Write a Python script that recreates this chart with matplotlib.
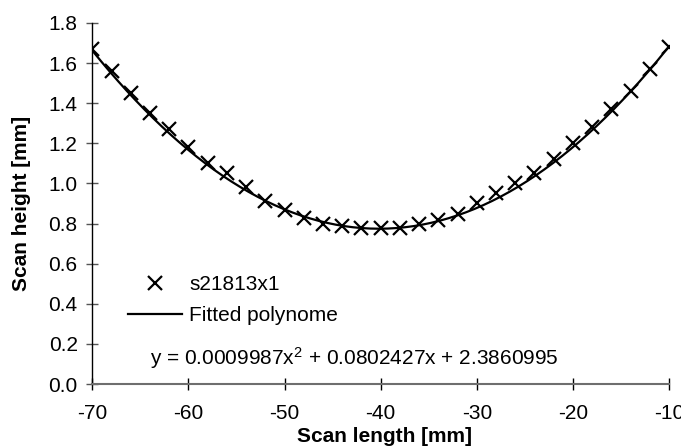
import matplotlib
matplotlib.use("Agg")
import matplotlib.pyplot as plt
import numpy as np

# scan data
scan_x = [-70, -68, -66, -64, -62, -60, -58, -56, -54, -52, -50, -48, -46, -44, -42, -40,
          -38, -36, -34, -32, -30, -28, -26, -24, -22, -20, -18, -16, -14, -12, -10]
scan_y = [1.67, 1.56, 1.45, 1.35, 1.27, 1.18, 1.10, 1.05, 0.98, 0.91, 0.87, 0.83, 0.80, 0.79, 0.78, 0.78,
          0.78, 0.80, 0.82, 0.85, 0.90, 0.95, 1.00, 1.05, 1.12, 1.20, 1.28, 1.37, 1.46, 1.57, 1.68]

# coefficients of the fitted polynome, as printed on the chart
fit_coef = [0.0009987, 0.0802427, 2.3860995]

x_ticks = [-70, -60, -50, -40, -30, -20, -10]
y_ticks = [0.0, 0.2, 0.4, 0.6, 0.8, 1.0, 1.2, 1.4, 1.6, 1.8]

plt.rcParams['font.family'] = ['Liberation Sans', 'DejaVu Sans']
plt.rcParams['mathtext.fontset'] = 'custom'
plt.rcParams['mathtext.rm'] = 'Liberation Sans'
plt.rcParams['mathtext.it'] = 'Liberation Sans'
plt.rcParams['axes.unicode_minus'] = False

fs = 15

fig = plt.figure(figsize=(6.81, 4.48), dpi=100)
ax = fig.add_axes([92.3/681, 1-384/448, (669-92.3)/681, (384-23)/448])

xs = np.linspace(-70, -10, 200)
ax.plot(scan_x, scan_y, 'x', color='black', markersize=9.5, markeredgewidth=1.6, label='s21813x1', zorder=3)
ax.plot(xs, np.polyval(fit_coef, xs), '-', color='black', linewidth=1.6, label='Fitted polynome')

ax.set_xlim(-70, -10)
ax.set_ylim(0, 1.8)
ax.set_xticks(x_ticks)
ax.set_yticks(y_ticks)
ax.set_yticklabels(['%.1f' % v for v in y_ticks])

for s in ['top', 'right']:
    ax.spines[s].set_visible(False)
ax.spines['left'].set_color('black')
ax.spines['bottom'].set_color('#6e6e6e')
ax.spines['left'].set_linewidth(1.0)
ax.spines['bottom'].set_linewidth(1.5)

ax.tick_params(axis='y', direction='inout', length=9, width=1, color='#555555', labelsize=fs, pad=6)
ax.tick_params(axis='x', direction='inout', length=9, width=1, color='black', labelsize=fs, pad=10)

ax.set_xlabel('Scan length [mm]', fontsize=fs, fontweight='bold')
ax.xaxis.set_label_coords((384-92.3)/576.7, (384-427)/361)
ax.set_ylabel('Scan height [mm]', fontsize=fs, fontweight='bold')
ax.yaxis.set_label_coords((31-92.3)/576.7, 0.5)

fig.legend(loc='upper left', bbox_to_anchor=(128/681, 1-275/448), frameon=False, fontsize=fs,
           borderpad=0, borderaxespad=0, handlelength=2.6, handletextpad=0.35, labelspacing=0.58)

ax.text(150/681, 1-358/448, 'y = 0.0009987x$^2$ + 0.0802427x + 2.3860995', transform=fig.transFigure,
        fontsize=fs, va='center', ha='left')

fig.savefig('out.png', dpi=100)
